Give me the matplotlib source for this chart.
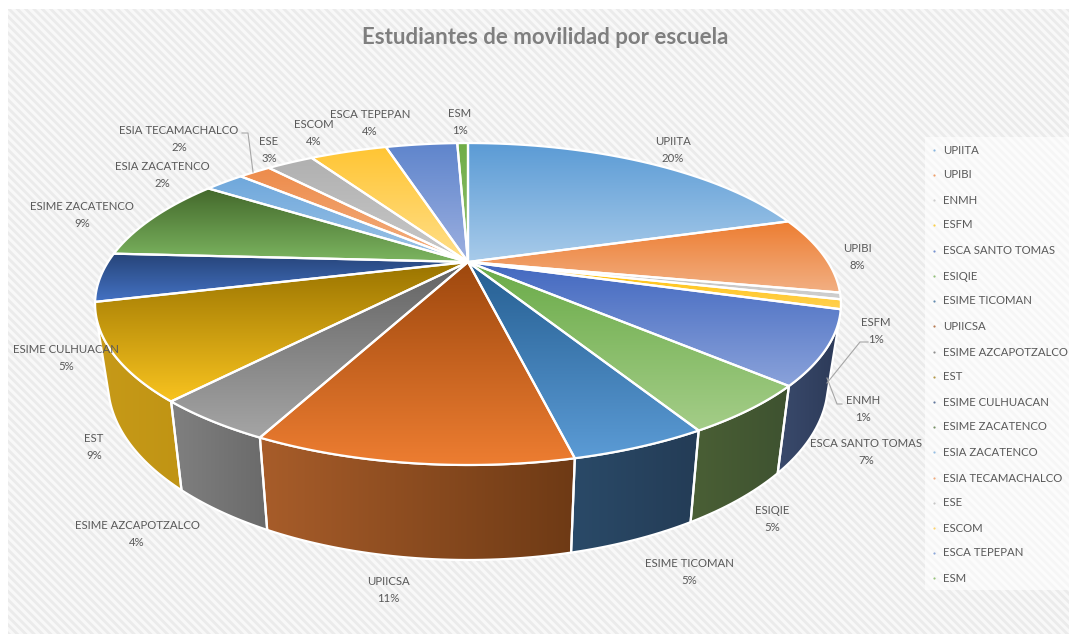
import numpy as np
import matplotlib
matplotlib.use("Agg")
import matplotlib.pyplot as plt
from matplotlib.colors import to_rgb
from matplotlib.patches import Polygon, Rectangle

plt.rcParams['font.family'] = ['Lato', 'DejaVu Sans']
plt.rcParams['hatch.linewidth'] = 2.0

schools = ["UPIITA", "UPIBI", "ENMH", "ESFM", "ESCA SANTO TOMAS", "ESIQIE", "ESIME TICOMAN",
           "UPIICSA", "ESIME AZCAPOTZALCO", "EST", "ESIME CULHUACAN", "ESIME ZACATENCO",
           "ESIA ZACATENCO", "ESIA TECAMACHALCO", "ESE", "ESCOM", "ESCA TEPEPAN", "ESM"]
# shares, the labels are these rounded
shares = [20.3, 7.8, 0.65, 0.95, 7.2, 4.85, 4.7, 10.85, 4.25, 9.45, 4.9, 8.6, 2.2, 1.8, 2.6, 4.3, 4.0, 0.6]

top_dark = ["#5b9bd5", "#ed7d31", "#bdbdbd", "#ffc000", "#4268c0", "#6aab48", "#255e91", "#9e480e", "#636363",
            "#997300", "#264478", "#43682b", "#6fa8dc", "#ed8b4a", "#b0b0b0", "#ffc533", "#5f85cc", "#70ad47"]
top_light = ["#a8cbea", "#f2b084", "#cfcfcf", "#ffd050", "#8aa2da", "#a4cd88", "#5b9bd5", "#ed7d31", "#a5a5a5",
             "#f8c31f", "#4472c4", "#7cb560", "#9dc3e6", "#f4b183", "#c9c9c9", "#ffdf8a", "#9db0e0", "#90c070"]
side_left = {4: "#3a4a6c", 5: "#4a5f35", 6: "#2a4a68", 7: "#a85d2a", 8: "#808080", 9: "#c79a18"}
side_right = {4: "#2c3a58", 5: "#3e5230", 6: "#243c56", 7: "#6e3a15", 8: "#6a6a6a", 9: "#c09414"}

# label centres, pixels from the top left of the picture
label_x = [673, 857, 863, 876, 866, 772, 689, 388, 137, 94, 66, 82, 162, 179, 269, 314, 370, 460]
label_y = [150, 257, 409, 331, 452, 519, 572, 590, 534, 447, 358, 215, 175, 139, 150, 133, 123, 122]
leaders = [[(242, 133), (248, 133), (253, 172)],
           [(868, 342), (860, 342), (827, 383)],
           [(842, 404), (837, 404), (827, 378)]]
legend_y = [150, 175, 200, 225, 251, 276, 301, 326, 352, 377, 402, 427, 452, 478, 503, 528, 553, 578]

# top face: circle seen in perspective, centre of the pie is at (cx, cy)
cx, cy = 468, 262
A, B, k = 360, 150, 0.261
# lower edge of the side wall
low_scale, low_y, low_a, low_b = 0.965, 383, 360, 177


def rim(t):
    w = 1 + k * np.cos(t)
    return cx + A * np.sin(t) / w, cy - B * np.cos(t) / w


def low_rim(t):
    x, y = rim(t)
    dx = low_scale * (x - cx)
    return cx + dx, low_y + low_b * np.sqrt(np.clip(1 - (dx / low_a) ** 2, 0, 1))


def fill(ax, pts, c0, c1, vertical, z, lw=1.6):
    # gradient image clipped to the slice, then white outline on top
    pts = np.array(pts)
    x0, y0 = pts.min(axis=0)
    x1, y1 = pts.max(axis=0)
    s = np.linspace(0, 1, 256)[:, None]
    g = (1 - s) * np.array(to_rgb(c0)) + s * np.array(to_rgb(c1))
    g = g[:, None, :] if vertical else g[None, :, :]
    im = ax.imshow(g, extent=(x0, x1, y1, y0), aspect='auto', zorder=z, interpolation='bilinear')
    im.set_clip_path(Polygon(pts, closed=True, transform=ax.transData))
    ax.add_patch(Polygon(pts, closed=True, fill=False, edgecolor='white', linewidth=lw, zorder=z + 0.1,
                         joinstyle='round'))


fig = plt.figure(figsize=(10.69, 6.34), dpi=100)
ax = fig.add_axes([0, 0, 1, 1])
ax.axis('off')

ax.add_patch(Rectangle((8, 9), 1061, 625, facecolor='#f8f8f8', edgecolor='#ebebeb', hatch='\\\\\\\\', linewidth=0, zorder=0))
ax.add_patch(Rectangle((925, 137), 144, 453, facecolor='white', alpha=0.6, linewidth=0, zorder=0.5))

edges = np.cumsum([0] + shares) / sum(shares) * 2 * np.pi
side_from, side_to = np.radians(110), np.radians(250)

for i in range(len(schools)):
    a0, a1 = edges[i], edges[i + 1]
    b0, b1 = max(a0, side_from), min(a1, side_to)
    if i in side_left and b1 > b0:
        t = np.linspace(b0, b1, 40)
        upper = np.column_stack(rim(t))
        lower = np.column_stack(low_rim(t))[::-1]
        fill(ax, np.vstack([upper, lower]), side_left[i], side_right[i], False, 2)

for i in range(len(schools)):
    t = np.linspace(edges[i], edges[i + 1], 60)
    pts = np.vstack([[cx, cy], np.column_stack(rim(t))])
    fill(ax, pts, top_dark[i], top_light[i], True, 3, lw=1.6)

for i, name in enumerate(schools):
    ax.text(label_x[i], label_y[i], f"{name}\n{round(shares[i])}%", ha='center', va='center',
            fontsize=8.2, color='#595959', linespacing=1.6, zorder=6)
    ax.text(943, legend_y[i], name, ha='left', va='center', fontsize=8.2, color='#595959', zorder=6)
    ax.scatter([934], [legend_y[i]], s=2.5, color=top_dark[i], alpha=0.7, linewidths=0, zorder=6)

for line in leaders:
    xs, ys = zip(*line)
    ax.plot(xs, ys, color='#a6a6a6', linewidth=0.8, zorder=5)

ax.text(545, 37, "Estudiantes de movilidad por escuela", ha='center', va='center', fontsize=16,
        fontweight='bold', color='#7f7f7f', zorder=6)

ax.set_xlim(0, 1069)
ax.set_ylim(634, 0)
fig.savefig("out.png", dpi=100, facecolor='white')
